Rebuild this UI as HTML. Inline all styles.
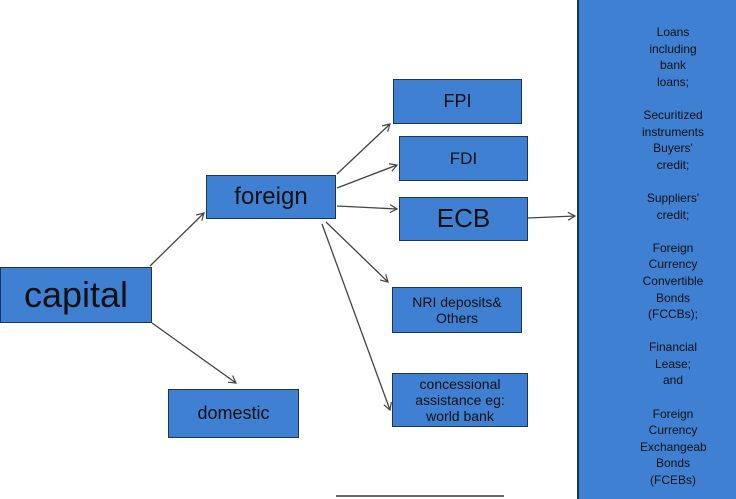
<!DOCTYPE html>
<html><head><style>
body{margin:0;width:736px;height:497px;background:#fff;position:relative;overflow:hidden;font-family:"Liberation Sans",Arial,sans-serif;}
.b{position:absolute;background:#3f80d2;border:1.5px solid #1c3557;box-sizing:border-box;display:flex;align-items:center;justify-content:center;text-align:center;color:#111;line-height:1.15;}
#big{position:absolute;left:577px;top:-2px;width:162px;height:501px;background:#3f80d2;border-left:2px solid #1c3557;box-sizing:border-box;}
#bt{position:absolute;left:640px;top:24px;width:66px;overflow:hidden;text-align:center;font-size:12px;line-height:16.6px;color:#111;white-space:nowrap;}
</style></head><body>
<svg width="736" height="497" style="position:absolute;left:0;top:0">
<defs><marker id="a" markerWidth="10" markerHeight="10" refX="8" refY="5" orient="auto" markerUnits="userSpaceOnUse"><path d="M1,1 L8,5 L1,9" fill="none" stroke="#444" stroke-width="1.2"/></marker></defs>
<g stroke="#444" stroke-width="1.3" fill="none" marker-end="url(#a)">
<line x1="150" y1="266" x2="204" y2="213"/>
<line x1="152" y1="323" x2="236" y2="383"/>
<line x1="337" y1="174" x2="390" y2="124"/>
<line x1="337" y1="188" x2="397" y2="165"/>
<line x1="337" y1="206" x2="397" y2="209"/>
<line x1="326" y1="222" x2="388" y2="282"/>
<line x1="322" y1="224" x2="390" y2="410"/>
<line x1="528" y1="218" x2="575" y2="216"/>
</g>
<line x1="336" y1="496" x2="504" y2="496" stroke="#666" stroke-width="2"/>
</svg>
<div class="b" style="left:0;top:267px;width:152px;height:56px;font-size:36px">capital</div>
<div class="b" style="left:206px;top:175px;width:130px;height:44px;font-size:24px">foreign</div>
<div class="b" style="left:168px;top:389px;width:131px;height:49px;font-size:18px">domestic</div>
<div class="b" style="left:393px;top:79px;width:129px;height:45px;font-size:18px">FPI</div>
<div class="b" style="left:399px;top:136px;width:129px;height:45px;font-size:17px">FDI</div>
<div class="b" style="left:399px;top:197px;width:129px;height:44px;font-size:26px">ECB</div>
<div class="b" style="left:392px;top:287px;width:130px;height:46px;font-size:14px">NRI deposits&amp;<br>Others</div>
<div class="b" style="left:392px;top:373px;width:136px;height:54px;font-size:14px">concessional<br>assistance eg:<br>world bank</div>
<div id="big"></div>
<div id="bt">Loans<br>including<br>bank<br>loans;<br><br>Securitized<br>instruments<br>Buyers'<br>credit;<br><br>Suppliers'<br>credit;<br><br>Foreign<br>Currency<br>Convertible<br>Bonds<br>(FCCBs);<br><br>Financial<br>Lease;<br>and<br><br>Foreign<br>Currency<br>Exchangeable<br>Bonds<br>(FCEBs)</div>
</body></html>
